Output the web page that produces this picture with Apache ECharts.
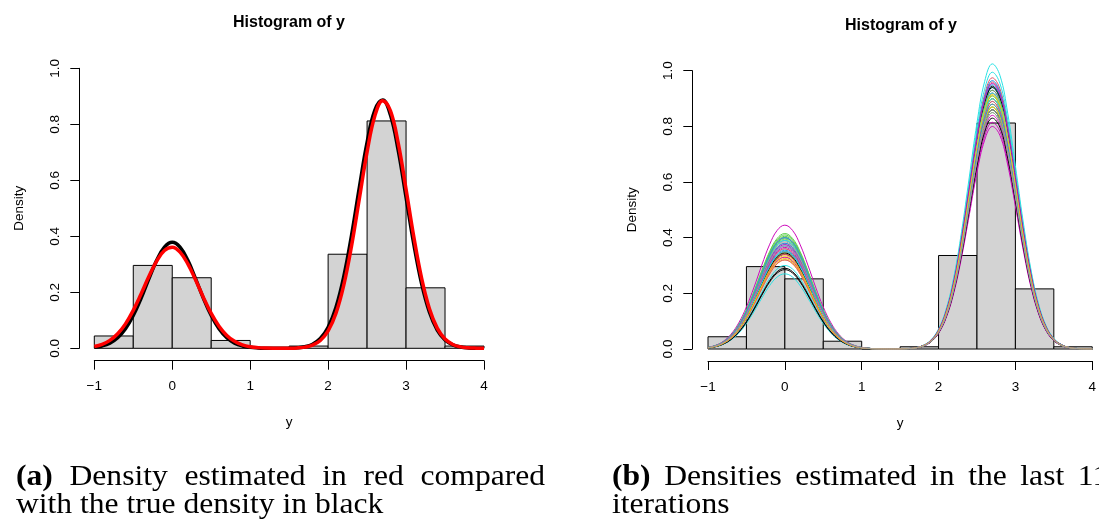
<!DOCTYPE html>
<html>
<head>
<meta charset="utf-8">
<script src="https://cdn.jsdelivr.net/npm/echarts@6/dist/echarts.min.js"></script>
<style>
html,body{margin:0;padding:0;background:#fff;}
#chart{width:1099px;height:530px;}
</style>
</head>
<body>
<div id="chart"></div>
<script>
// ---------- data ----------
const binEdges = [-1, -0.5, 0, 0.5, 1, 1.5, 2, 2.5, 3, 3.5, 4];
const binDensity = [0.044, 0.296, 0.252, 0.028, 0, 0.008, 0.336, 0.812, 0.216, 0.008];

const xTickLabels = ['\u22121', '0', '1', '2', '3', '4'];
const yTickLabels = ['0.0', '0.2', '0.4', '0.6', '0.8', '1.0'];

const xSamples = [-1,-0.9,-0.8,-0.7,-0.6,-0.5,-0.4,-0.3,-0.2,-0.1,0,0.1,0.2,0.3,0.4,0.5,0.6,0.7,0.8,0.9,1,1.1,1.2,1.3,1.4,1.5,1.6,1.7,1.8,1.9,2,2.1,2.2,2.3,2.4,2.5,2.6,2.7,2.8,2.9,3,3.1,3.2,3.3,3.4,3.5,3.6,3.7,3.8,3.9,4];

// (a) true density (black)
const trueDensity = [0.0034,0.0084,0.0186,0.0378,0.0697,0.1169,0.1785,0.2482,0.314,0.3616,0.379,0.3616,0.314,0.2482,0.1785,0.1169,0.0697,0.0378,0.0186,0.0084,0.0034,0.0013,0.0004,0.0001,0.0002,0.0006,0.0019,0.0055,0.0145,0.0348,0.0749,0.1457,0.2552,0.4029,0.5733,0.7355,0.8504,0.8865,0.833,0.7055,0.5387,0.3708,0.23,0.1286,0.0648,0.0295,0.0121,0.0045,0.0015,0.0004,0.0001];
// (a) estimated density (red)
const estDensity = [0.0066,0.0142,0.0283,0.0517,0.0872,0.1355,0.194,0.2561,0.3115,0.3493,0.3609,0.3436,0.3015,0.2439,0.1818,0.1249,0.0791,0.0461,0.0248,0.0123,0.0056,0.0024,0.0009,0.0003,0.0002,0.0004,0.0013,0.0041,0.0113,0.0279,0.0621,0.1245,0.2246,0.3649,0.5333,0.7015,0.8303,0.8845,0.848,0.7316,0.5681,0.3969,0.2496,0.1413,0.072,0.033,0.0136,0.005,0.0017,0.0005,0.0001];

// (b) bump profiles (peak = 1)
const leftBump = [0.0132,0.0301,0.0628,0.1201,0.2108,0.3391,0.5005,0.6776,0.8411,0.9577,1,0.9577,0.8411,0.6776,0.5005,0.3391,0.2108,0.1201,0.0628,0.0301,0.0132,0.0053,0.002,0.0007,0.0002,0,0,0,0,0,0,0,0,0,0,0,0,0,0,0,0,0,0,0,0,0,0,0,0,0,0];
const rightBump = [0,0,0,0,0,0,0,0,0,0,0,0,0,0,0,0,0,0,0,0,0,0,0,0,0,0.0004,0.0015,0.0046,0.0127,0.0315,0.0702,0.1407,0.2538,0.4123,0.6026,0.7926,0.9382,0.9995,0.9582,0.8267,0.6419,0.4485,0.282,0.1596,0.0813,0.0373,0.0154,0.0057,0.0019,0.0006,0.0002];

// (b) peak heights of the individual iteration curves
const iterLeftPeak  = [0.35,0.38,0.41,0.39,0.27,0.445,0.33,0.36,0.285,0.36,0.405,0.37,0.30,0.40,0.32,0.39,0.34,0.35,0.415,0.38,0.39,0.33,0.345,0.40,0.29,0.34,0.40,0.355,0.375,0.365,0.325,0.385,0.345,0.32,0.395,0.40,0.35,0.375,0.335,0.37];
const iterRightPeak = [0.90,0.88,0.86,0.92,1.025,0.80,0.90,0.87,0.945,0.975,0.85,0.93,0.995,0.815,0.91,0.89,0.86,0.96,0.87,0.95,0.94,0.84,0.88,0.90,0.83,0.92,0.91,0.965,0.90,0.93,0.87,0.85,0.94,0.89,0.93,0.88,0.92,0.955,0.915,0.86];
const rPalette = ['#000000','#DF536B','#61D04F','#2297E6','#28E2E5','#CD0BBC','#F5C710','#9E9E9E'];

// captions
const captionA1 = ['(a)', 'Density', 'estimated', 'in', 'red', 'compared'];
const captionA2 = 'with the true density in black';
const captionB1 = ['(b)', 'Densities', 'estimated', 'in', 'the', 'last', '110'];
const captionB2 = 'iterations';

// ---------- chart ----------
const FONT = '"Liberation Sans", Arial, sans-serif';
const SERIF_NAME = 'Liberation Serif';
const CAP_SIZE = 29.5;
const CAP_SCALE = 1.07;

const measureCtx = document.createElement('canvas').getContext('2d');
function justifiedLine(words, x, y, lineWidth) {
  const widths = words.map((w, i) => {
    measureCtx.font = (i === 0 ? 'bold ' : '') + CAP_SIZE + 'px "' + SERIF_NAME + '"';
    return measureCtx.measureText(w).width * CAP_SCALE;
  });
  const total = widths.reduce((a, b) => a + b, 0);
  const gap = (lineWidth - total) / (words.length - 1);
  let cx = x;
  return words.map((w, i) => {
    const el = { type: 'text', x: cx, y: y, scaleX: CAP_SCALE,
      style: { text: w, fontFamily: SERIF_NAME, fontSize: CAP_SIZE,
      fontWeight: i === 0 ? 'bold' : 'normal', fill: '#000', verticalAlign: 'middle' } };
    cx += widths[i] + gap;
    return el;
  });
}
function plainLine(text, x, y) {
  return { type: 'text', x: x, y: y, scaleX: CAP_SCALE,
    style: { text: text, fontFamily: SERIF_NAME, fontSize: CAP_SIZE, fill: '#000', verticalAlign: 'middle' } };
}

function histItem(params, api) {
  const p0 = api.coord([api.value(0), api.value(2)]);
  const p1 = api.coord([api.value(1), 0]);
  return {
    type: 'rect',
    shape: { x: p0[0], y: p0[1], width: p1[0] - p0[0], height: p1[1] - p0[1] },
    style: { fill: '#D3D3D3', stroke: '#000', lineWidth: 1 }
  };
}
const histData = binDensity.map((d, i) => [binEdges[i], binEdges[i + 1], d]);

function xAxisDef(gi, off) {
  return {
    gridIndex: gi, type: 'value', min: -1, max: 4, interval: 1, offset: off,
    name: 'y', nameLocation: 'middle', nameGap: 55,
    nameTextStyle: { fontFamily: FONT, fontSize: 13.5, color: '#000' },
    axisLine: { show: true, onZero: false, lineStyle: { color: '#000', width: 1 } },
    axisTick: { show: true, length: 9, lineStyle: { color: '#000' } },
    axisLabel: { margin: 19, fontFamily: FONT, fontSize: 13.5, color: '#000',
      formatter: v => xTickLabels[Math.round(v) + 1] },
    splitLine: { show: false }
  };
}
function yAxisDef(gi, off) {
  return {
    gridIndex: gi, type: 'value', min: 0, max: 1, interval: 0.2, offset: off,
    name: 'Density', nameLocation: 'middle', nameGap: 53, nameRotate: 90,
    nameTextStyle: { fontFamily: FONT, fontSize: 13.5, color: '#000' },
    axisLine: { show: true, onZero: false, lineStyle: { color: '#000', width: 1 } },
    axisTick: { show: true, length: 9, lineStyle: { color: '#000' } },
    axisLabel: { margin: 17, rotate: 90, fontFamily: FONT, fontSize: 13.5, color: '#000',
      formatter: v => yTickLabels[Math.round(v * 5)] },
    splitLine: { show: false }
  };
}

const series = [
  { type: 'custom', xAxisIndex: 0, yAxisIndex: 0, renderItem: histItem, data: histData, encode: { x: [0, 1], y: 2 }, clip: false, silent: true },
  { type: 'line', xAxisIndex: 0, yAxisIndex: 0, data: xSamples.map((x, i) => [x, trueDensity[i]]), showSymbol: false, smooth: 0.4, clip: false, silent: true,
    lineStyle: { color: '#000', width: 3.5 } },
  { type: 'line', xAxisIndex: 0, yAxisIndex: 0, data: xSamples.map((x, i) => [x, estDensity[i]]), showSymbol: false, smooth: 0.4, clip: false, silent: true,
    lineStyle: { color: '#FF0000', width: 3.5 } },
  { type: 'custom', xAxisIndex: 1, yAxisIndex: 1, renderItem: histItem, data: histData, encode: { x: [0, 1], y: 2 }, clip: false, silent: true }
];
iterLeftPeak.forEach((lp, k) => {
  series.push({
    type: 'line', xAxisIndex: 1, yAxisIndex: 1, showSymbol: false, smooth: 0.4, clip: false, silent: true,
    data: xSamples.map((x, i) => [x, lp * leftBump[i] + iterRightPeak[k] * rightBump[i]]),
    lineStyle: { color: rPalette[k % rPalette.length], width: 1 }
  });
});

const graphics = [
  { type: 'text', x: 289, y: 23, style: { text: 'Histogram of y', fontFamily: FONT, fontSize: 16, fontWeight: 'bold', fill: '#000', align: 'center', verticalAlign: 'middle' } },
  { type: 'text', x: 901, y: 26, style: { text: 'Histogram of y', fontFamily: FONT, fontSize: 16, fontWeight: 'bold', fill: '#000', align: 'center', verticalAlign: 'middle' } }
]
  .concat(justifiedLine(captionA1, 16, 477, 529))
  .concat([plainLine(captionA2, 16, 505)])
  .concat(justifiedLine(captionB1, 612, 477, 512))
  .concat([plainLine(captionB2, 612, 505)]);

const chart = echarts.init(document.getElementById('chart'), null, { renderer: 'canvas' });
chart.setOption({
  animation: false,
  backgroundColor: '#fff',
  grid: [
    { left: 94.3, top: 68.3, width: 389.7, height: 280 },
    { left: 708, top: 70.7, width: 386.3, height: 278.3 }
  ],
  xAxis: [xAxisDef(0, 12.4), xAxisDef(1, 12)],
  yAxis: [yAxisDef(0, 15), yAxisDef(1, 15.7)],
  series: series,
  graphic: graphics
});
</script>
</body>
</html>
